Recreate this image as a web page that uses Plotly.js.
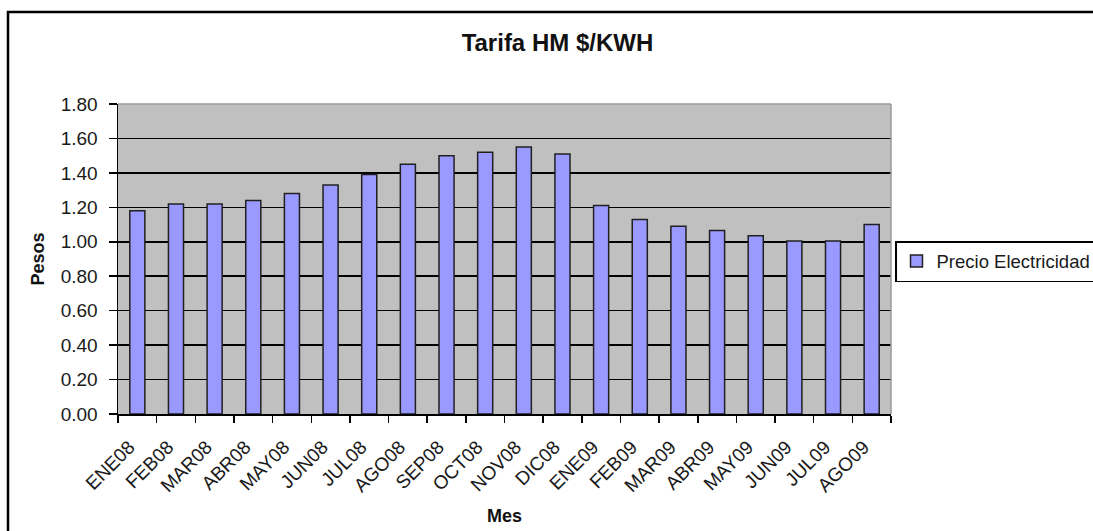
<!DOCTYPE html>
<html>
<head>
<meta charset="utf-8">
<script src="https://cdn.plot.ly/plotly-3.0.1.min.js"></script>
<style>
  html, body { margin: 0; padding: 0; background: #ffffff; }
  #chart { width: 1093px; height: 531px; }
</style>
</head>
<body>
<div id="chart"></div>
<script>
const meses = ["ENE08","FEB08","MAR08","ABR08","MAY08","JUN08","JUL08","AGO08","SEP08","OCT08","NOV08","DIC08","ENE09","FEB09","MAR09","ABR09","MAY09","JUN09","JUL09","AGO09"];
const precioElectricidad = [1.18,1.22,1.22,1.24,1.28,1.33,1.39,1.45,1.50,1.52,1.55,1.51,1.21,1.13,1.09,1.065,1.035,1.005,1.005,1.10];
const yTicks = [0,0.2,0.4,0.6,0.8,1.0,1.2,1.4,1.6,1.8];

const font = "Liberation Sans, Arial, sans-serif";

const trace = {
  type: "bar",
  name: "Precio Electricidad",
  x: meses,
  y: precioElectricidad,
  marker: { color: "#9999ff", line: { color: "#202020", width: 1.5 } },
  hoverinfo: "x+y"
};

const layout = {
  width: 1093,
  height: 531,
  margin: { l: 118, r: 202, t: 104, b: 117, autoexpand: false },
  paper_bgcolor: "#ffffff",
  plot_bgcolor: "#c0c0c0",
  font: { family: font, size: 19, color: "#1a1a1a" },
  bargap: 0.61,
  showlegend: true,
  title: {
    text: "<b>Tarifa HM $/KWH</b>",
    font: { family: font, size: 24, color: "#111111" },
    xref: "container", x: 0.51, xanchor: "center",
    yref: "container", y: 1 - 43/531, yanchor: "middle"
  },
  xaxis: {
    type: "category",
    tickson: "boundaries",
    ticks: "outside",
    ticklen: 7,
    tickwidth: 1.5,
    tickcolor: "#000000",
    showline: true,
    linecolor: "#000000",
    linewidth: 1.5,
    showgrid: false,
    tickangle: -45,
    ticklabelstandoff: 13,
    ticklabelshift: -8,
    tickfont: { family: font, size: 19, color: "#1a1a1a" },
    title: { text: "<b>Mes</b>", font: { family: font, size: 18, color: "#111111" }, standoff: 14 },
    automargin: false,
    fixedrange: true
  },
  yaxis: {
    range: [0, 1.8],
    tickvals: yTicks,
    tickformat: ".2f",
    ticks: "outside",
    ticklen: 8,
    tickwidth: 1.5,
    tickcolor: "#000000",
    showline: true,
    linecolor: "#000000",
    linewidth: 1.5,
    showgrid: true,
    gridcolor: "#000000",
    gridwidth: 1.5,
    zeroline: false,
    ticklabelstandoff: 7,
    tickfont: { family: font, size: 19, color: "#1a1a1a" },
    title: { text: "<b>Pesos</b>", font: { family: font, size: 18, color: "#111111" }, standoff: 11 },
    automargin: false,
    fixedrange: true
  },
  legend: {
    x: (895 - 118) / 773, xanchor: "left",
    y: (414 - 241) / 310, yanchor: "top",
    bgcolor: "#ffffff",
    bordercolor: "#000000",
    borderwidth: 1.5,
    font: { family: font, size: 18.5, color: "#1a1a1a" }
  },
  shapes: [
    { type: "line", xref: "paper", yref: "paper", x0: 0, x1: 1, y0: 1, y1: 1, line: { color: "#9a9a9a", width: 1.5 } },
    { type: "line", xref: "paper", yref: "paper", x0: 1, x1: 1, y0: 0, y1: 1, line: { color: "#9a9a9a", width: 1.5 } },
    { type: "rect", xref: "paper", yref: "paper",
      x0: (8 - 118) / 773, x1: 1.5, y0: -1, y1: (414 - 12) / 310,
      line: { color: "#000000", width: 2.5 }, fillcolor: "rgba(0,0,0,0)" }
  ]
};

Plotly.newPlot("chart", [trace], layout, { displayModeBar: false, staticPlot: true });
</script>
</body>
</html>
